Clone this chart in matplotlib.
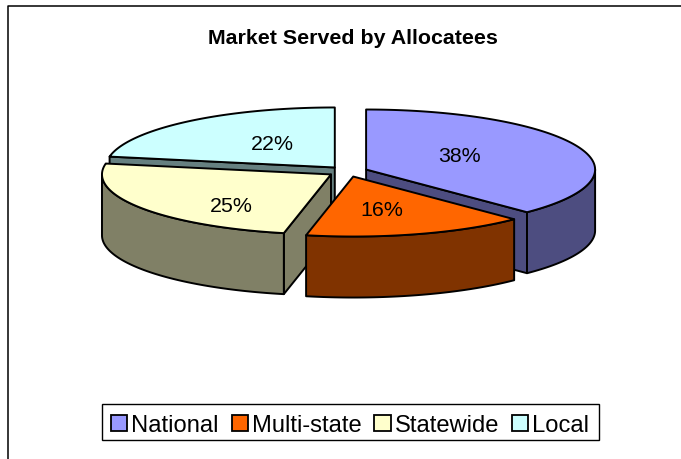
#! /usr/bin/env python3
import numpy as np
import matplotlib
matplotlib.use('Agg')
import matplotlib.pyplot as plt
from matplotlib.patches import Patch, Polygon, Rectangle

plt.rcParams['font.family'] = ['Liberation Sans', 'DejaVu Sans']

categories = ['National', 'Multi-state', 'Statewide', 'Local']
shares = [37.6, 15.7, 24.6, 22.1]
shown_labels = ['38%', '16%', '25%', '22%']
top_colors = ['#9999ff', '#ff6600', '#ffffcc', '#ccffff']
side_colors = ['#4d4d80', '#803300', '#808066', '#668080']
label_pos = [(459, 157), (382, 211), (231, 207), (272, 145)]

# pie geometry, in figure pixels
cx, cy = 347.6, 172.5
rx, ry = 229, 60
depth = 61
explode = 20
line = 1.4

fig = plt.figure(figsize=(6.81, 4.6), dpi=100)
ax = fig.add_axes([0, 0, 1, 1])
ax.set_xlim(0, 681)
ax.set_ylim(460, 0)
ax.axis('off')

ax.plot([8, 8, 681], [460, 7, 7], color='black', lw=1.1, solid_capstyle='butt')

edges = np.concatenate([[0], np.cumsum(shares)]) / np.sum(shares) * 2 * np.pi


def rim(t, ox, oy):
    return np.column_stack([ox + rx * np.sin(t), oy - ry * np.cos(t)])


def face(points, color, z):
    ax.add_patch(Polygon(points, closed=True, facecolor=color, edgecolor='black',
                         lw=line, joinstyle='round', zorder=z))


# back wedges first so the front ones cover them
for z, i in enumerate([3, 0, 2, 1]):
    t0, t1 = edges[i], edges[i + 1]
    mid = (t0 + t1) / 2
    ox = cx + explode * np.sin(mid)
    oy = cy - explode * ry / rx * np.cos(mid)
    down = np.array([0, depth])
    apex = np.array([[ox, oy]])

    # cut faces that look towards the viewer
    if np.sin(t0) < -1e-6:
        p = rim(np.array([t0]), ox, oy)
        face(np.vstack([apex, p, p + down, apex + down]), side_colors[i], z * 3)
    if np.sin(t1) > 1e-6:
        p = rim(np.array([t1]), ox, oy)
        face(np.vstack([apex, p, p + down, apex + down]), side_colors[i], z * 3)

    # outer wall, front half of the ellipse only
    a, b = max(t0, np.pi / 2), min(t1, 3 * np.pi / 2)
    if a < b:
        p = rim(np.linspace(a, b, 80), ox, oy)
        face(np.vstack([p, (p + down)[::-1]]), side_colors[i], z * 3 + 1)

    # top
    p = rim(np.linspace(t0, t1, 120), ox, oy)
    face(np.vstack([apex, p]), top_colors[i], z * 3 + 2)

for txt, (x, y) in zip(shown_labels, label_pos):
    ax.text(x, y, txt, fontsize=15.4, ha='center', va='center', color='black', zorder=30)

ax.text(353, 38, 'Market Served by Allocatees', fontsize=15.4, fontweight='bold',
        ha='center', va='center', color='black')

ax.add_patch(Rectangle((102, 404.5), 497, 36.5, facecolor='white', edgecolor='black',
                       lw=1.0, zorder=35))
handles = [Patch(facecolor=c, edgecolor='black', lw=1.3) for c in top_colors]
leg = ax.legend(
    handles, categories,
    loc='center',
    bbox_to_anchor=(350, 426.5),
    bbox_transform=ax.transData,
    ncols=4,
    fontsize=17.1,
    frameon=False,
    handlelength=0.68,
    handleheight=0.68,
    handletextpad=0.17,
    columnspacing=0.55,
    borderpad=0,
    borderaxespad=0,
)
leg.set_zorder(40)

fig.savefig('out.png', dpi=100)
